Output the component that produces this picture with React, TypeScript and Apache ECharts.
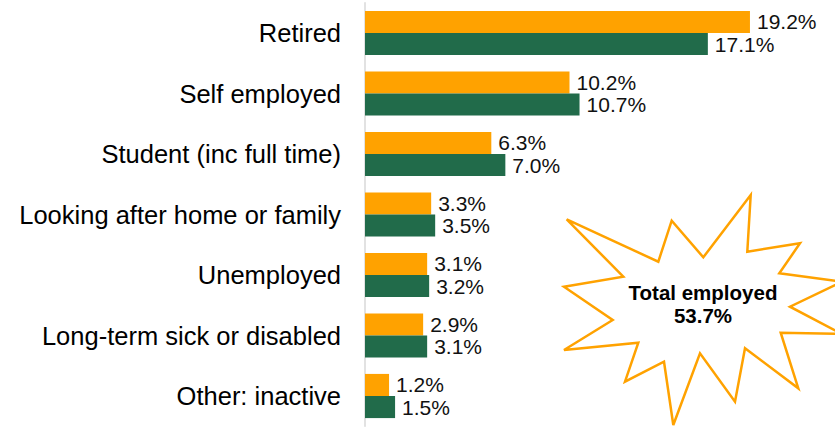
import React, { useEffect, useRef } from "react";
import * as echarts from "echarts";

const categories = [
  "Retired",
  "Self employed",
  "Student (inc full time)",
  "Looking after home or family",
  "Unemployed",
  "Long-term sick or disabled",
  "Other: inactive",
];
const seriesA = [19.2, 10.2, 6.3, 3.3, 3.1, 2.9, 1.2];
const seriesB = [17.1, 10.7, 7.0, 3.5, 3.2, 3.1, 1.5];
const calloutTitle = "Total employed";
const calloutValue = "53.7%";

const ORANGE = "#FFA200";
const GREEN = "#216B4A";
const FONT = "'Liberation Sans', Arial, sans-serif";

const burst: number[][] = [
  [566.7, 219.3], [658.3, 261.7], [671.7, 220.7], [703.3, 257.3], [750.7, 195],
  [747.3, 251.7], [800, 243.3], [779.3, 273.3], [842, 281.7], [790, 306.7],
  [842, 334], [780.7, 332.7], [798.3, 388.3], [745, 348.3], [735, 401.7],
  [700, 353.3], [673.3, 425], [664, 361.7], [625, 381.7], [638.3, 342.7],
  [564, 350], [612.7, 320], [564, 286.7], [623.3, 276.7],
];

export default function App() {
  const ref = useRef<HTMLDivElement>(null);
  useEffect(() => {
    if (!ref.current) return;
    const chart = echarts.init(ref.current, undefined, { renderer: "svg" });
    const label = {
      show: true,
      position: "right" as const,
      distance: 7,
      fontSize: 21,
      lineHeight: 21,
      fontFamily: FONT,
      color: "#111",
      formatter: (p: any) => `${p.value.toFixed(1)}%`,
    };
    chart.setOption({
      animation: false,
      backgroundColor: "#fff",
      grid: { left: 365, top: 2.75, height: 423.5, width: 401, containLabel: false },
      xAxis: {
        type: "value",
        min: 0,
        max: 20,
        show: false,
      },
      yAxis: {
        type: "category",
        data: categories,
        inverse: true,
        axisLine: { show: true, lineStyle: { color: "#D9D9D9", width: 1.5 } },
        axisTick: { show: false },
        splitLine: { show: false },
        axisLabel: { fontSize: 25.5, fontFamily: FONT, color: "#000", margin: 24 },
      },
      series: [
        {
          type: "bar",
          data: seriesA,
          itemStyle: { color: ORANGE },
          barGap: "0%",
          barCategoryGap: "27%",
          label,
        },
        {
          type: "bar",
          data: seriesB,
          itemStyle: { color: GREEN },
          barGap: "0%",
          barCategoryGap: "27%",
          label,
        },
      ],
      graphic: [
        {
          type: "polygon",
          shape: { points: burst },
          style: { fill: "#fff", stroke: ORANGE, lineWidth: 2.5, lineJoin: "miter" },
          z: 10,
        },
        {
          type: "text",
          x: 703,
          y: 292,
          z: 11,
          style: {
            text: calloutTitle,
            fontSize: 20.5,
            fontWeight: "bold",
            fontFamily: FONT,
            fill: "#000",
            align: "center",
            verticalAlign: "middle",
          },
        },
        {
          type: "text",
          x: 703,
          y: 315,
          z: 11,
          style: {
            text: calloutValue,
            fontSize: 20.5,
            fontWeight: "bold",
            fontFamily: FONT,
            fill: "#000",
            align: "center",
            verticalAlign: "middle",
          },
        },
      ],
    });
    return () => chart.dispose();
  }, []);
  return (
    <div
      ref={ref}
      style={{ position: "fixed", left: 0, top: 0, width: 835, height: 428 }}
    />
  );
}
